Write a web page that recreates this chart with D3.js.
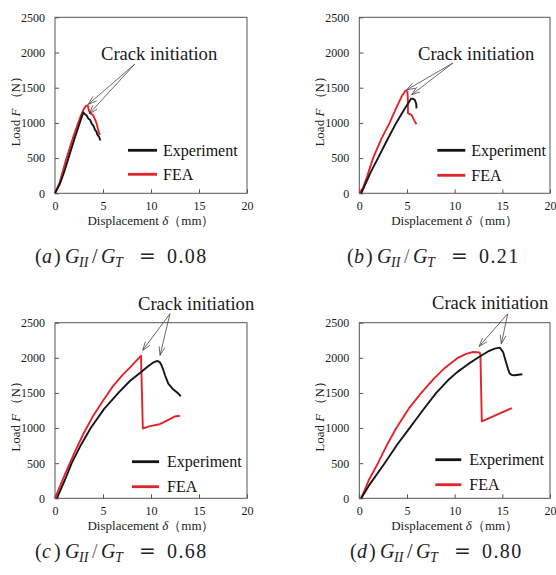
<!doctype html>
<html lang="en">
<head>
<meta charset="utf-8">
<title>Load-displacement curves</title>
<script src="https://cdn.jsdelivr.net/npm/d3@7"></script>
<style>
  body { margin: 0; background: #fff; }
  svg { display: block; }
</style>
</head>
<body>
<svg id="chart" width="556" height="575"></svg>
<script>
// axis ticks
const xTicks = [0, 5, 10, 15, 20];
const yTicks = [0, 500, 1000, 1500, 2000, 2500];
const seriesNames = ["Experiment", "FEA"];
const panelLetters = ["a", "b", "c", "d"];
const modeRatios = ["0.08", "0.21", "0.68", "0.80"];

// [displacement mm, load N]
const aExperiment = [[0,0],[0.5,130],[1,320],[1.4,500],[2,760],[2.6,1010],[2.95,1150],[3.1,1125],[3.3,1105],[3.47,1060],[3.65,1045],[3.82,990],[4.0,960],[4.17,900],[4.3,880],[4.44,825],[4.6,800],[4.72,750]];
const aFea = [[0,0],[0.5,160],[1.2,500],[2,840],[2.6,1070],[3.0,1200],[3.25,1245],[3.4,1250],[3.57,1160],[3.8,1125],[4.0,1105],[4.2,1040],[4.34,990],[4.5,900],[4.62,840],[4.72,855]];

const bExperiment = [[0.2,0],[0.6,120],[1.2,300],[1.96,500],[2.9,750],[3.87,1000],[4.4,1120],[4.79,1207],[5.13,1280],[5.41,1340],[5.6,1345],[5.83,1325],[5.97,1270],[6.0,1207]];
const bFea = [[0,0],[0.4,80],[0.8,230],[1.44,500],[2.3,770],[3.18,1000],[3.9,1220],[4.5,1390],[4.85,1460],[5.05,1445],[5.1,1300],[5.1,1140],[5.5,1110],[5.7,1050],[6.0,980]];

const cExperiment = [[0.2,0],[1,250],[1.74,500],[2.7,760],[3.72,1000],[5.1,1270],[6.6,1500],[7.8,1670],[8.85,1785],[9.6,1870],[10.2,1930],[10.66,1955],[10.9,1940],[11.1,1893],[11.3,1820],[11.46,1752],[11.8,1633],[12.33,1548],[12.85,1491],[13.1,1453]];
const cFea = [[0,0],[1,330],[2,640],[3,930],[4,1180],[5,1390],[6,1590],[7,1750],[8,1890],[8.96,2030],[9.15,994],[9.5,1010],[9.9,1027],[10.9,1055],[11.5,1095],[12.0,1130],[12.5,1165],[13.0,1175]];

const dExperiment = [[0.2,0],[1,180],[2.66,500],[4,770],[5.27,1000],[6.7,1260],[8.07,1500],[9.3,1680],[10.3,1800],[11.4,1910],[12.43,2000],[13.5,2090],[14.2,2130],[14.73,2145],[15.08,2083],[15.25,2000],[15.43,1918],[15.6,1840],[15.78,1776],[16.0,1755],[16.3,1751],[17.1,1766]];
const dFea = [[0.2,0],[1,260],[1.96,500],[2.9,760],[3.88,1000],[5.2,1280],[6.5,1500],[7.8,1700],[9.0,1860],[10.34,2000],[11.2,2055],[11.94,2083],[12.6,2075],[12.7,2050],[12.85,1095],[16.0,1285]];

const experimentSeries = [aExperiment, bExperiment, cExperiment, dExperiment];
const feaSeries = [aFea, bFea, cFea, dFea];

// arrows "Crack initiation": start and tips in data units
const crackArrows = [
  { from: [8.33, 1837], tips: [[3.47, 1264], [3.57, 1132]] },
  { from: [9.81, 1850], tips: [[4.96, 1468], [5.49, 1400]] },
  { from: [11.98, 2628], tips: [[9.13, 2107], [10.94, 2036]] },
  { from: [15.57, 2628], tips: [[12.57, 2163], [14.9, 2201]] }
];

const panels = [
  { left: 55, top: 17.3, width: 192, height: 176, legend: { x0: 73, x1: 102, tx: 108, y: [133, 157] }, crack: [101, 60], caption: [35, 263], slash: "#222" },
  { left: 359.3, top: 17.3, width: 190.7, height: 176, legend: { x0: 78, x1: 106, tx: 112, y: [133, 158] }, crack: [418, 60], caption: [347, 263], slash: "#7a5a66" },
  { left: 55, top: 322.7, width: 192, height: 175.6, legend: { x0: 77, x1: 104, tx: 112, y: [139, 164] }, crack: [138, 310], caption: [35, 558], slash: "#7a5a66" },
  { left: 359.3, top: 322.7, width: 190.7, height: 175.6, legend: { x0: 76, x1: 102, tx: 110, y: [137, 162] }, crack: [432, 309], caption: [350, 558], slash: "#222" }
];

const serif = '"Liberation Serif", "Times New Roman", serif';
const colors = { Experiment: "#161616", FEA: "#e3242b" };
const svg = d3.select("#chart").attr("font-family", serif);

panels.forEach((p, i) => {
  const x = d3.scaleLinear().domain([0, 20]).range([0, p.width]);
  const y = d3.scaleLinear().domain([0, 2500]).range([p.height, 0]);
  const g = svg.append("g").attr("transform", `translate(${p.left},${p.top})`);

  const xAxis = g.append("g")
    .attr("transform", `translate(0,${p.height})`)
    .call(d3.axisBottom(x).tickValues(xTicks).tickFormat(d3.format("d")).tickSizeInner(-4).tickSizeOuter(0).tickPadding(8));
  const yAxis = g.append("g")
    .call(d3.axisLeft(y).tickValues(yTicks).tickFormat(d3.format("d")).tickSizeInner(-4).tickSizeOuter(0).tickPadding(10));
  [xAxis, yAxis].forEach((ax) => {
    ax.attr("font-family", serif).attr("font-size", 12);
    ax.select(".domain").remove();
    ax.selectAll("line").attr("stroke", "#555");
    ax.selectAll("text").attr("fill", "#1a1a1a");
  });

  g.append("rect")
    .attr("width", p.width).attr("height", p.height)
    .attr("fill", "none").attr("stroke", "#555").attr("stroke-width", 1);

  // axis titles
  const xt = g.append("text")
    .attr("x", p.width / 2).attr("y", p.height + 32)
    .attr("text-anchor", "middle").attr("font-size", 13).attr("fill", "#222");
  xt.append("tspan").text("Displacement ");
  xt.append("tspan").attr("font-style", "italic").text("δ");
  xt.append("tspan").text("（mm）");

  const yt = g.append("text")
    .attr("transform", `translate(-35,${p.height / 2 + 3}) rotate(-90)`)
    .attr("text-anchor", "middle").attr("font-size", 13).attr("fill", "#222");
  yt.append("tspan").text("Load ");
  yt.append("tspan").attr("font-style", "italic").text("F");
  yt.append("tspan").text(" （N）");

  const line = d3.line().x((d) => x(d[0])).y((d) => y(d[1]));
  [[feaSeries[i], "FEA"], [experimentSeries[i], "Experiment"]].forEach(([data, name]) => {
    g.append("path").datum(data)
      .attr("d", line)
      .attr("fill", "none")
      .attr("stroke", colors[name])
      .attr("stroke-width", 1.9)
      .attr("stroke-linejoin", "round");
  });

  // legend
  seriesNames.forEach((name, k) => {
    g.append("line")
      .attr("x1", p.legend.x0).attr("x2", p.legend.x1)
      .attr("y1", p.legend.y[k]).attr("y2", p.legend.y[k])
      .attr("stroke", colors[name]).attr("stroke-width", 2.8);
    g.append("text")
      .attr("x", p.legend.tx).attr("y", p.legend.y[k]).attr("dy", "0.35em")
      .attr("font-size", 16).attr("fill", "#111").text(name);
  });

  // crack initiation annotation
  const arrow = crackArrows[i];
  const [fx, fy] = [x(arrow.from[0]), y(arrow.from[1])];
  arrow.tips.forEach((t) => {
    const tx = x(t[0]), ty = y(t[1]);
    const ang = Math.atan2(fy - ty, fx - tx);
    const head = 9, spread = 0.33;
    g.append("line").attr("x1", fx).attr("y1", fy).attr("x2", tx).attr("y2", ty)
      .attr("stroke", "#444").attr("stroke-width", 0.8);
    g.append("path")
      .attr("d", d3.line()([
        [tx + head * Math.cos(ang + spread), ty + head * Math.sin(ang + spread)],
        [tx, ty],
        [tx + head * Math.cos(ang - spread), ty + head * Math.sin(ang - spread)]
      ]))
      .attr("fill", "none").attr("stroke", "#444").attr("stroke-width", 0.8);
  });
  svg.append("text")
    .attr("x", p.crack[0]).attr("y", p.crack[1])
    .attr("font-size", 18.6).attr("fill", "#1a1a1a").text("Crack initiation");

  // caption (x) G_II/G_T = value
  const [cx, cy] = p.caption;
  const cap = svg.append("g").attr("transform", `translate(${cx},${cy})`).attr("fill", "#222");
  const piece = (dx, txt, opts = {}) => cap.append("text")
    .attr("x", dx).attr("y", opts.sub ? 4 : 0)
    .attr("font-size", opts.sub ? 14 : 20)
    .attr("font-style", opts.italic ? "italic" : null)
    .attr("font-family", opts.family || serif)
    .attr("letter-spacing", opts.spacing || null)
    .attr("fill", opts.color || null)
    .text(txt);
  piece(0, "(");
  piece(7, panelLetters[i], { italic: true });
  piece(19, ")");
  piece(30, "G", { italic: true });
  piece(44, "II", { italic: true, sub: true });
  piece(57, "/", { color: p.slash });
  piece(66, "G", { italic: true });
  piece(80, "T", { italic: true, sub: true });
  piece(104, "=", { family: '"DejaVu Serif", serif', color: "#222" });
  piece(132, modeRatios[i], { spacing: 1.4 });
});
</script>
</body>
</html>
